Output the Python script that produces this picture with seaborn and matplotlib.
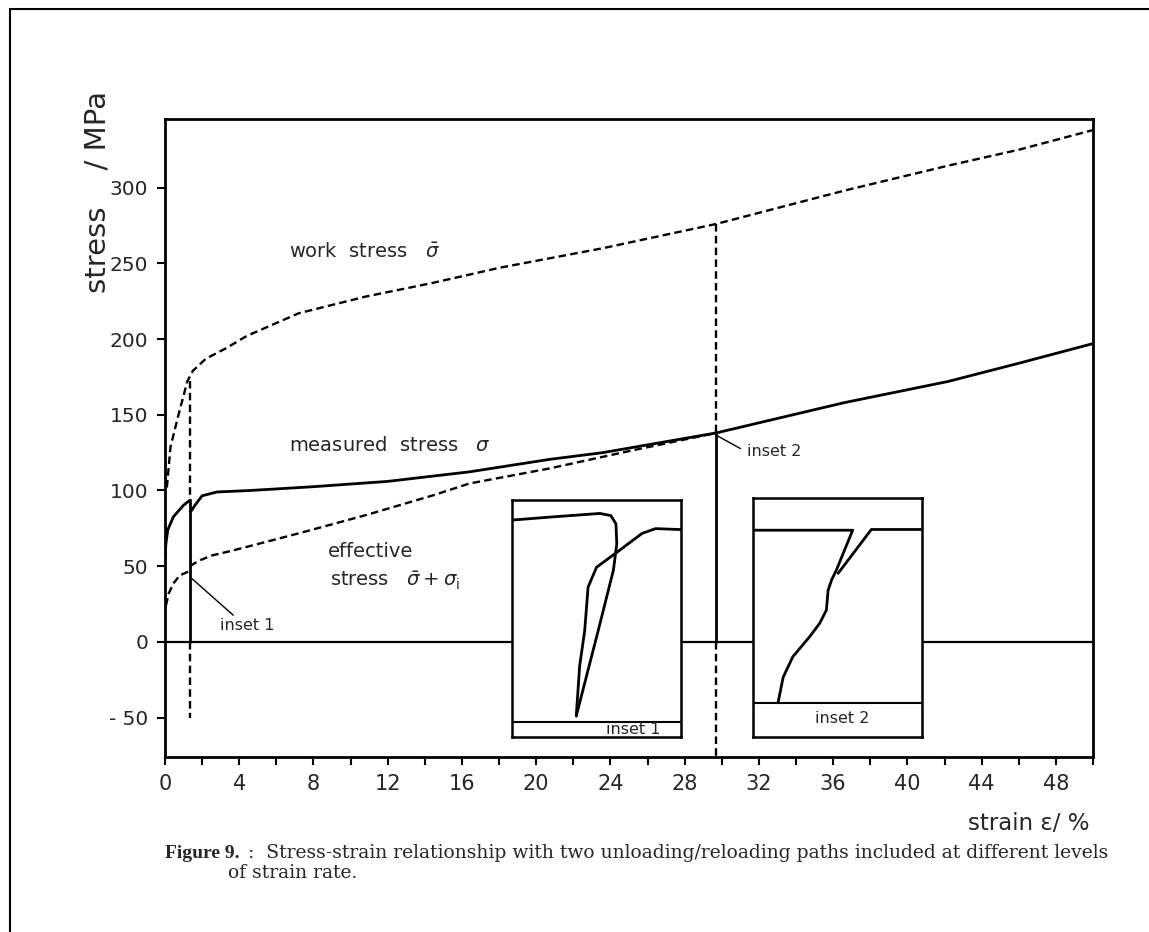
import matplotlib
matplotlib.use("Agg")
import matplotlib.pyplot as plt
from matplotlib.lines import Line2D
import pandas as pd
import seaborn as sns

# ---- main curves (strain in %, stress in MPa) ----
work_strain = [0.1, 0.3, 0.75, 1.2, 1.5, 2.2, 3.3, 4.4, 7.2, 10.8, 14.4, 18.0, 23.6, 29.7, 36.6, 42.2, 46.0, 50.0]
work_stress = [102, 129, 151, 172, 179, 187, 194, 202, 217, 228, 237, 247, 260, 276, 298, 314.5, 325, 338]

meas_strain_a = [0.0, 0.05, 0.15, 0.45, 1.0, 1.35]
meas_stress_a = [55, 65, 74, 82.6, 90.3, 93.6]
meas_strain_b = [1.35, 1.45, 1.6, 2.0, 2.8, 4.6, 8.0, 12.0, 16.4, 20.7, 23.6, 29.7, 36.6, 42.2, 46.0, 50.0]
meas_stress_b = [86, 87, 90, 96.5, 99, 100, 102.5, 106, 112.3, 120.5, 125, 138, 158, 172, 184, 197]

eff_strain_a = [0.05, 0.2, 0.45, 0.8, 1.0, 1.35]
eff_stress_a = [24, 32, 38.6, 44, 45, 47]
eff_strain_b = [1.35, 1.6, 1.9, 2.5, 3.7, 7.3, 10.9, 14.5, 16.4, 20.7, 25.0, 29.7]
eff_stress_b = [50, 52, 54, 57, 60.5, 72, 84, 97, 104.6, 114.5, 126, 138]

# unloading / reloading positions
unload_strain = [1.35, 29.7]
unload_top = [172, 276]
unload_mid = [93.6, 138]
unload_bottom = [-50, -76]

# ---- inset curves (normalised box coordinates) ----
in1_unload_x = [0.0, 0.25, 0.52, 0.585, 0.615, 0.62, 0.60, 0.51, 0.38]
in1_unload_y = [0.916, 0.93, 0.944, 0.935, 0.90, 0.816, 0.705, 0.45, 0.09]
in1_reload_x = [0.38, 0.40, 0.43, 0.45, 0.50, 0.62, 0.77, 0.85, 1.0]
in1_reload_y = [0.09, 0.30, 0.45, 0.633, 0.717, 0.78, 0.86, 0.88, 0.876]

in2_unload_x = [0.0, 0.59, 0.494, 0.466, 0.445, 0.435, 0.395, 0.336, 0.237, 0.18, 0.15]
in2_unload_y = [0.867, 0.867, 0.70, 0.659, 0.615, 0.532, 0.476, 0.42, 0.336, 0.25, 0.143]
in2_reload_x = [0.504, 0.70, 1.0]
in2_reload_y = [0.686, 0.87, 0.87]

inset_boxes = {"inset 1": (18.7, -63, 9.1, 156.6), "inset 2": (31.66, -62.7, 9.14, 157.4)}

x_ticks = list(range(0, 51, 2))
x_labels = [str(v) if v % 4 == 0 and v < 50 else "" for v in x_ticks]
y_ticks = [-50, 0, 50, 100, 150, 200, 250, 300]
y_labels = ["- 50", "0", "50", "100", "150", "200", "250", "300"]

sns.set_theme(style="ticks")
plt.rcParams["font.family"] = ["DejaVu Sans"]
plt.rcParams["mathtext.fontset"] = "dejavusans"

W, H = 1149, 932
fig = plt.figure(figsize=(W / 100, H / 100), dpi=100)
fig.patch.set_facecolor("white")
L, R, T, B = 165, 1093, 119, 757
ax = fig.add_axes([L / W, 1 - B / H, (R - L) / W, (B - T) / H])
ax.set_facecolor("white")

dash = (0, (3.2, 1.8))
ink = "black"


def line(xs, ys, a, style="-", lw=1.8, **kw):
    df = pd.DataFrame({"x": xs, "y": ys})
    sns.lineplot(data=df, x="x", y="y", ax=a, sort=False, estimator=None,
                 color=ink, linewidth=lw, linestyle=style, legend=False, **kw)


line(work_strain, work_stress, ax, dash, 1.7)
line(meas_strain_a, meas_stress_a, ax, "-", 2.0)
line(meas_strain_b, meas_stress_b, ax, "-", 2.0)
line(eff_strain_a, eff_stress_a, ax, dash, 1.7)
line(eff_strain_b, eff_stress_b, ax, dash, 1.7)

for xs, top, mid, bot in zip(unload_strain, unload_top, unload_mid, unload_bottom):
    line([xs, xs], [top, mid], ax, dash, 1.7)
    line([xs, xs], [mid, 0], ax, "-", 2.0)
    line([xs, xs], [0, bot], ax, dash, 1.7)

ax.axhline(0, color=ink, lw=1.6, zorder=1)

ax.set_xlim(0, 50)
ax.set_ylim(-76, 345.3)
ax.set_xticks(x_ticks)
ax.set_xticklabels(x_labels)
ax.set_yticks(y_ticks)
ax.set_yticklabels(y_labels)
ax.set_xlabel("")
ax.set_ylabel("")
for s in ax.spines.values():
    s.set_linewidth(2.0)
    s.set_color(ink)
ax.tick_params(axis="both", direction="out", length=6, width=1.5, color=ink)
ax.tick_params(axis="y", labelsize=14.5, pad=6)
ax.tick_params(axis="x", labelsize=15, pad=6)

# curve annotations
lab = dict(fontsize=14, va="center", ha="left")
ax.text(6.7, 258, r"work  stress   $\bar{\sigma}$", **lab)
ax.text(6.7, 130, r"measured  stress   $\sigma$", **lab)
ax.text(8.8, 60, "effective", **lab)
ax.text(8.9, 40.5, r"stress   $\bar{\sigma}+\sigma_{\mathrm{i}}$", **lab)
ax.text(2.96, 11, "inset 1", fontsize=11.5, va="center", ha="left")
ax.plot([1.44, 3.68], [41.9, 17.6], color=ink, lw=1.0)
ax.text(31.34, 126, "inset 2", fontsize=11.5, va="center", ha="left")
ax.plot([29.7, 31.0], [136.5, 127.7], color=ink, lw=1.0)

# inset panels
insets = {
    "inset 1": ((in1_unload_x, in1_unload_y), (in1_reload_x, in1_reload_y), 0.065, (0.72, 0.035)),
    "inset 2": ((in2_unload_x, in2_unload_y), (in2_reload_x, in2_reload_y), 0.143, (0.53, 0.075)),
}
for name, (unl, rel, base, tpos) in insets.items():
    x0, y0, w, h = inset_boxes[name]
    iax = ax.inset_axes([x0, y0, w, h], transform=ax.transData)
    iax.set_facecolor("white")
    iax.set_xlim(0, 1)
    iax.set_ylim(0, 1)
    iax.set_xticks([])
    iax.set_yticks([])
    for s in iax.spines.values():
        s.set_linewidth(1.8)
        s.set_color(ink)
    line(unl[0], unl[1], iax, "-", 2.0)
    line(rel[0], rel[1], iax, "-", 2.0)
    iax.axhline(base, color=ink, lw=1.5)
    iax.text(tpos[0], tpos[1], name, fontsize=11.5, ha="center", va="center")
    iax.set_xlabel("")
    iax.set_ylabel("")

# axis titles
fig.text(97 / W, 1 - 192 / H, "stress    / MPa", rotation=90, fontsize=21, ha="center", va="center")
fig.text(1090 / W, 1 - 824 / H, "strain ε/ %", fontsize=16.5, ha="right", va="center")

# caption
fig.text(165 / W, 1 - 858 / H, "Figure 9.", fontsize=14, fontweight="bold",
         family=["Liberation Serif"], va="baseline")
fig.text(248 / W, 1 - 858 / H, ":  Stress-strain relationship with two unloading/reloading paths included at different levels",
         fontsize=13.5, family=["DejaVu Serif"], va="baseline")
fig.text(228 / W, 1 - 878 / H, "of strain rate.", fontsize=13.5, family=["DejaVu Serif"], va="baseline")

# page frame
fig.add_artist(Line2D([10 / W, 1], [1 - 9 / H, 1 - 9 / H], color=ink, lw=1.5))
fig.add_artist(Line2D([10 / W, 10 / W], [0, 1 - 9 / H], color=ink, lw=1.5))

fig.savefig("out.png", dpi=100, facecolor="white")
